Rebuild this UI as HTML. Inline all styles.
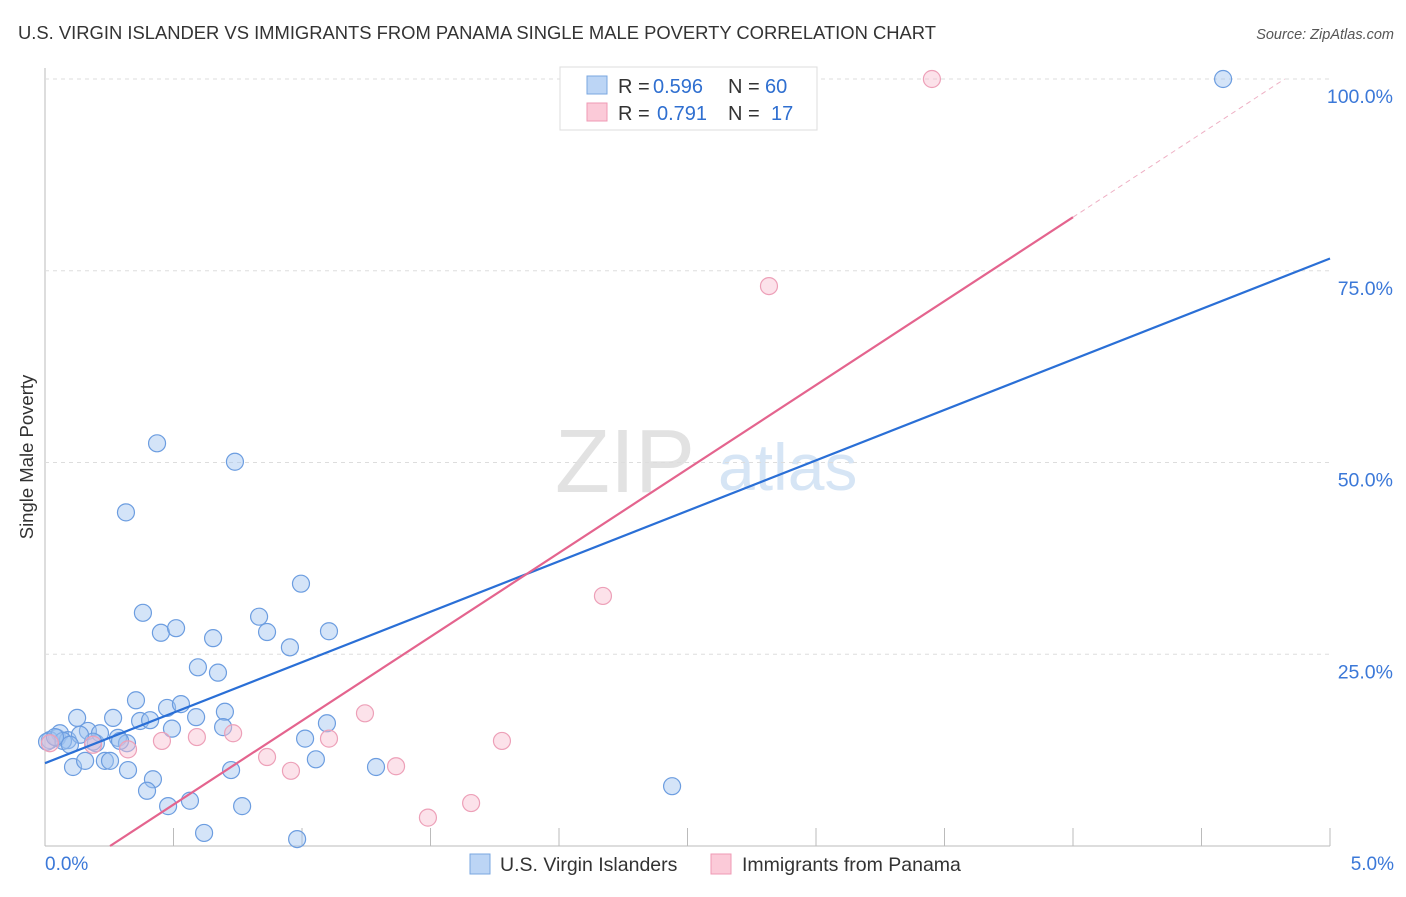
<!DOCTYPE html>
<html><head><meta charset="utf-8"><style>
body{margin:0;background:#fff;font-family:"Liberation Sans",sans-serif}
svg text{font-family:"Liberation Sans",sans-serif}
</style></head><body>
<svg id="c" width="1406" height="892">
<text x="18" y="39" font-size="18.4" fill="#333">U.S. VIRGIN ISLANDER VS IMMIGRANTS FROM PANAMA SINGLE MALE POVERTY CORRELATION CHART</text>
<text x="1394" y="39" font-size="14.5" fill="#555" font-style="italic" text-anchor="end">Source: ZipAtlas.com</text>
<text x="33" y="457" font-size="18.5" fill="#333" text-anchor="middle" transform="rotate(-90 33 457)">Single Male Poverty</text>
<text x="555" y="492" font-size="90" fill="#e2e2e2" font-family="Liberation Serif">ZIP</text>
<text x="718" y="490" font-size="66" fill="#d6e5f5">atlas</text>
<g id="grid"></g><g id="marks"></g>
<g>
<rect x="560" y="67" width="257" height="63" fill="#fff" stroke="#ddd"/>
<rect x="587" y="76" width="20" height="18" fill="#bcd5f5" stroke="#7aa7e0"/>
<rect x="587" y="103" width="20" height="18" fill="#fbcad8" stroke="#ef9ab4"/>
<text x="618" y="93" font-size="20" fill="#333">R =</text>
<text x="653" y="93" font-size="20" fill="#2f6fd0">0.596</text>
<text x="728" y="93" font-size="20" fill="#333">N =</text>
<text x="765" y="93" font-size="20" fill="#2f6fd0">60</text>
<text x="618" y="120" font-size="20" fill="#333">R =</text>
<text x="657" y="120" font-size="20" fill="#2f6fd0">0.791</text>
<text x="728" y="120" font-size="20" fill="#333">N =</text>
<text x="771" y="120" font-size="20" fill="#2f6fd0">17</text>
</g>
<g>
<rect x="470" y="854" width="20" height="20" fill="#bcd5f5" stroke="#7aa7e0"/>
<text x="500" y="871" font-size="19.5" fill="#333">U.S. Virgin Islanders</text>
<rect x="711" y="854" width="20" height="20" fill="#fbcad8" stroke="#ef9ab4"/>
<text x="742" y="871" font-size="19.5" fill="#333">Immigrants from Panama</text>
</g>
</svg>
<script>
const blueX=[0.047,0.019,0.058,0.089,0.125,0.167,0.198,0.233,0.253,0.284,0.319,0.265,0.354,0.370,0.409,0.475,0.529,0.588,0.494,0.381,0.451,0.510,0.595,0.654,0.673,0.700,0.693,0.833,0.864,0.953,0.996,1.105,1.097,1.012,1.054,0.724,0.420,0.397,0.479,0.564,0.619,0.767,0.981,1.288,2.440,0.315,0.436,0.739,4.584,0.109,0.156,0.323,0.214,0.070,0.008,0.187,0.292,0.136,0.039,0.097];
const blueY=[14.1,13.8,14.7,13.8,16.7,15.0,13.4,11.1,11.1,14.1,13.4,16.7,19.0,16.3,16.4,18.0,18.5,16.8,15.3,30.4,27.8,28.4,23.3,27.1,22.6,17.5,15.5,29.9,27.9,25.9,34.2,28.0,16.0,14.0,11.3,9.9,8.7,7.2,5.2,5.9,1.7,5.2,0.9,10.3,7.8,43.5,52.5,50.1,100,10.3,11.1,9.9,14.7,13.7,13.6,13.6,13.7,14.5,14.2,13.2];
const pinkX=[0.019,0.187,0.323,0.455,0.591,0.732,0.864,0.957,1.105,1.245,1.366,1.490,1.658,1.778,2.171,2.817,3.451];
const pinkY=[13.4,13.2,12.6,13.7,14.2,14.7,11.6,9.8,14.0,17.3,10.4,3.7,5.6,13.7,32.6,73.0,100];
const blueFit=[10.8,13.16];
const pinkFit=[-5.54,21.88];
const yTicks=[25,50,75,100];
const yTickLabels=["25.0%","50.0%","75.0%","100.0%"];
const xTicks=[0.5,1,1.5,2,2.5,3,3.5,4,4.5,5];
const NS="http://www.w3.org/2000/svg";
const sx=v=>45+v/5*1285, sy=v=>846-v/100*767;
function mk(p,t,a){const e=document.createElementNS(NS,t);for(const k in a)e.setAttribute(k,a[k]);p.appendChild(e);return e;}
const g=document.getElementById('grid'),m=document.getElementById('marks');
let ax=mk(g,'line',{x1:45,y1:68,x2:45,y2:846,stroke:'#bbb'});

let bx=mk(g,'line',{x1:45,y1:846,x2:1330,y2:846,stroke:'#bbb'});

yTicks.forEach((v,i)=>{
 const l=mk(g,'line',{x1:45,x2:1330,y1:sy(v),y2:sy(v),stroke:'#ddd','stroke-dasharray':'4,4'});
 
 const t=mk(g,'text',{x:1393,y:sy(v)+24,'font-size':19.5,fill:'#3b78d8','text-anchor':'end'});t.textContent=yTickLabels[i];
 
});
xTicks.forEach(v=>{const l=mk(g,'line',{x1:sx(v),x2:sx(v),y1:828,y2:846,stroke:'#bbb'});
 });
let t0=mk(g,'text',{x:45,y:870,'font-size':19,fill:'#3b78d8'});t0.textContent='0.0%';

let t5=mk(g,'text',{x:1394,y:870,'font-size':19,fill:'#3b78d8','text-anchor':'end'});t5.textContent='5.0%';

blueX.forEach((x,i)=>{const c=mk(m,'circle',{cx:sx(x),cy:sy(blueY[i]),r:8.5,fill:'rgba(160,196,240,0.45)',stroke:'#6c9de0','stroke-width':1.2});
 });
pinkX.forEach((x,i)=>{const c=mk(m,'circle',{cx:sx(x),cy:sy(pinkY[i]),r:8.5,fill:'rgba(248,190,208,0.45)',stroke:'#eda0b8','stroke-width':1.2});
 });
const bl=mk(m,'line',{x1:sx(0),y1:sy(blueFit[0]),x2:sx(5),y2:sy(blueFit[0]+blueFit[1]*5),stroke:'#2a6fd6','stroke-width':2.2});

const px0=-pinkFit[0]/pinkFit[1],px1=4.0,px2=(100-pinkFit[0])/pinkFit[1];
const pl=mk(m,'line',{x1:sx(px0),y1:sy(0),x2:sx(px1),y2:sy(pinkFit[0]+pinkFit[1]*px1),stroke:'#e4648e','stroke-width':2.2});

const pd=mk(m,'line',{x1:sx(px1),y1:sy(pinkFit[0]+pinkFit[1]*px1),x2:sx(px2),y2:sy(100),stroke:'#eeb0c4','stroke-width':1,'stroke-dasharray':'5,4'});

</script>
</body></html>
